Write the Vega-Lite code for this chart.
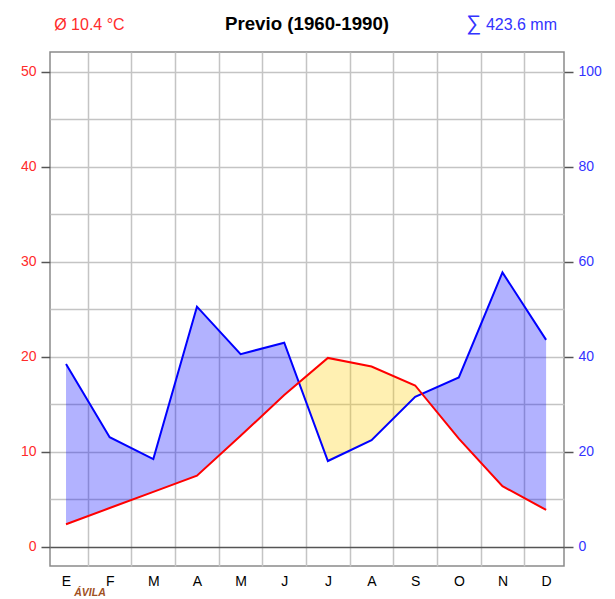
{
  "$schema": "https://vega.github.io/schema/vega-lite/v6.json",
  "width": 514,
  "height": 514,
  "autosize": {"type": "none"},
  "padding": {"left": 50, "top": 52, "right": 51, "bottom": 33},
  "config": {"view": {"stroke": "#8a8a8a", "strokeWidth": 1.5}, "font": "Liberation Sans"},
  "datasets": {
    "months": [
      {"m": 1, "t": 2.4, "p": 38.5},
      {"m": 2, "t": 4.1, "p": 23.1},
      {"m": 3, "t": 5.8, "p": 18.5},
      {"m": 4, "t": 7.5, "p": 50.6},
      {"m": 5, "t": 11.7, "p": 40.6},
      {"m": 6, "t": 16.0, "p": 43.0},
      {"m": 7, "t": 19.9, "p": 18.1},
      {"m": 8, "t": 19.0, "p": 22.5},
      {"m": 9, "t": 17.0, "p": 31.6},
      {"m": 10, "t": 11.4, "p": 35.7},
      {"m": 11, "t": 6.4, "p": 57.8},
      {"m": 12, "t": 3.9, "p": 43.6}
    ],
    "fill": [
      {"m": 1, "hi": 38.5, "lo": 4.8, "zone": "humid", "part": 1},
      {"m": 2, "hi": 23.1, "lo": 8.2, "zone": "humid", "part": 1},
      {"m": 3, "hi": 18.5, "lo": 11.6, "zone": "humid", "part": 1},
      {"m": 4, "hi": 50.6, "lo": 15.0, "zone": "humid", "part": 1},
      {"m": 5, "hi": 40.6, "lo": 23.4, "zone": "humid", "part": 1},
      {"m": 6, "hi": 43.0, "lo": 32.0, "zone": "humid", "part": 1},
      {"m": 6.336, "hi": 34.62, "lo": 34.62, "zone": "humid", "part": 1},
      {"m": 6.336, "hi": 34.62, "lo": 34.62, "zone": "arid", "part": 2},
      {"m": 7, "hi": 39.8, "lo": 18.1, "zone": "arid", "part": 2},
      {"m": 8, "hi": 38.0, "lo": 22.5, "zone": "arid", "part": 2},
      {"m": 9, "hi": 34.0, "lo": 31.6, "zone": "arid", "part": 2},
      {"m": 9.157, "hi": 32.24, "lo": 32.24, "zone": "arid", "part": 2},
      {"m": 9.157, "hi": 32.24, "lo": 32.24, "zone": "humid", "part": 3},
      {"m": 10, "hi": 35.7, "lo": 22.8, "zone": "humid", "part": 3},
      {"m": 11, "hi": 57.8, "lo": 12.8, "zone": "humid", "part": 3},
      {"m": 12, "hi": 43.6, "lo": 7.8, "zone": "humid", "part": 3}
    ]
  },
  "layer": [
    {
      "layer": [
        {
          "data": {"name": "fill"},
          "mark": {"type": "area", "opacity": 0.3},
          "encoding": {
            "x": {
              "field": "m", "type": "quantitative",
              "scale": {"domain": [0.633, 12.41], "nice": false, "zero": false},
              "axis": {"orient": "bottom", "values": [1, 1.5, 2, 2.5, 3, 3.5, 4, 4.5, 5, 5.5, 6, 6.5, 7, 7.5, 8, 8.5, 9, 9.5, 10, 10.5, 11, 11.5, 12], "title": null, "domain": false, "ticks": false, "grid": true, "gridColor": "#c4c4c4", "gridWidth": 1.5, "gridOpacity": {"condition": {"test": "datum.value % 1 !== 0", "value": 1}, "value": 0}, "labelExpr": "datum.value % 1 === 0 ? ['E','F','M','A','M','J','J','A','S','O','N','D'][datum.value - 1] : ''", "labelFont": "Liberation Sans", "labelFontSize": 14, "labelColor": "#000000", "labelPadding": 8, "labelOverlap": false, "labelFlush": false}
            },
            "y": {
              "field": "hi", "type": "quantitative",
              "scale": {"domain": [-4, 104.2], "nice": false, "zero": false},
              "axis": {"orient": "right", "values": [0, 20, 40, 60, 80, 100], "title": null, "domain": false, "grid": false, "tickColor": "#555555", "tickWidth": 1.5, "tickSize": 9, "labelColor": "#3333ff", "labelFont": "Liberation Sans", "labelFontSize": 14, "labelPadding": 5, "labelOverlap": false, "labelFlush": false}
            },
            "y2": {"field": "lo"},
            "color": {"field": "zone", "type": "nominal", "scale": {"domain": ["humid", "arid"], "range": ["#0000ff", "#ffcc00"]}, "legend": null},
            "detail": {"field": "part", "type": "nominal"}
          }
        },
        {
          "data": {"name": "months"},
          "mark": {"type": "line", "color": "#0000ff", "strokeWidth": 2},
          "encoding": {
            "x": {
              "field": "m", "type": "quantitative",
              "scale": {"domain": [0.633, 12.41], "nice": false, "zero": false},
              "axis": {"orient": "bottom", "values": [1, 1.5, 2, 2.5, 3, 3.5, 4, 4.5, 5, 5.5, 6, 6.5, 7, 7.5, 8, 8.5, 9, 9.5, 10, 10.5, 11, 11.5, 12], "title": null, "domain": false, "ticks": false, "grid": true, "gridColor": "#c4c4c4", "gridWidth": 1.5, "gridOpacity": {"condition": {"test": "datum.value % 1 !== 0", "value": 1}, "value": 0}, "labelExpr": "datum.value % 1 === 0 ? ['E','F','M','A','M','J','J','A','S','O','N','D'][datum.value - 1] : ''", "labelFont": "Liberation Sans", "labelFontSize": 14, "labelColor": "#000000", "labelPadding": 8, "labelOverlap": false, "labelFlush": false}
            },
            "y": {"field": "p", "type": "quantitative", "axis": {"orient": "right", "values": [0, 20, 40, 60, 80, 100], "title": null, "domain": false, "grid": false, "tickColor": "#555555", "tickWidth": 1.5, "tickSize": 9, "labelColor": "#3333ff", "labelFont": "Liberation Sans", "labelFontSize": 14, "labelPadding": 5, "labelOverlap": false, "labelFlush": false}}
          }
        }
      ]
    },
    {
      "layer": [
        {
          "data": {"name": "months"},
          "mark": {"type": "line", "color": "#ff0000", "strokeWidth": 2},
          "encoding": {
            "x": {
              "field": "m", "type": "quantitative",
              "scale": {"domain": [0.633, 12.41], "nice": false, "zero": false},
              "axis": {"orient": "bottom", "values": [1, 1.5, 2, 2.5, 3, 3.5, 4, 4.5, 5, 5.5, 6, 6.5, 7, 7.5, 8, 8.5, 9, 9.5, 10, 10.5, 11, 11.5, 12], "title": null, "domain": false, "ticks": false, "grid": true, "gridColor": "#c4c4c4", "gridWidth": 1.5, "gridOpacity": {"condition": {"test": "datum.value % 1 !== 0", "value": 1}, "value": 0}, "labelExpr": "datum.value % 1 === 0 ? ['E','F','M','A','M','J','J','A','S','O','N','D'][datum.value - 1] : ''", "labelFont": "Liberation Sans", "labelFontSize": 14, "labelColor": "#000000", "labelPadding": 8, "labelOverlap": false, "labelFlush": false}
            },
            "y": {
              "field": "t", "type": "quantitative",
              "scale": {"domain": [-2, 52.1], "nice": false, "zero": false},
              "axis": {"orient": "left", "values": [0, 5, 10, 15, 20, 25, 30, 35, 40, 45, 50], "title": null, "domain": false, "grid": true, "gridColor": {"condition": {"test": "datum.value === 0", "value": "#555555"}, "value": "#c4c4c4"}, "gridWidth": 1.5, "tickColor": "#555555", "tickWidth": 1.5, "tickSize": 9, "tickOpacity": {"condition": {"test": "datum.value % 10 === 0", "value": 1}, "value": 0}, "labelExpr": "datum.value % 10 === 0 ? datum.label : ''", "labelColor": "#ff2b2b", "labelFont": "Liberation Sans", "labelFontSize": 14, "labelPadding": 5, "labelOverlap": false, "labelFlush": false}
            }
          }
        },
        {
          "data": {"values": [{}]},
          "mark": {"type": "text", "text": "Previo (1960-1990)", "align": "center", "baseline": "alphabetic", "color": "#000000", "fontSize": 18.7, "fontWeight": "bold", "font": "Liberation Sans"},
          "encoding": {
            "x": {
              "datum": 6.522, "type": "quantitative",
              "scale": {"domain": [0.633, 12.41], "nice": false, "zero": false},
              "axis": {"orient": "bottom", "values": [1, 1.5, 2, 2.5, 3, 3.5, 4, 4.5, 5, 5.5, 6, 6.5, 7, 7.5, 8, 8.5, 9, 9.5, 10, 10.5, 11, 11.5, 12], "title": null, "domain": false, "ticks": false, "grid": true, "gridColor": "#c4c4c4", "gridWidth": 1.5, "gridOpacity": {"condition": {"test": "datum.value % 1 !== 0", "value": 1}, "value": 0}, "labelExpr": "datum.value % 1 === 0 ? ['E','F','M','A','M','J','J','A','S','O','N','D'][datum.value - 1] : ''", "labelFont": "Liberation Sans", "labelFontSize": 14, "labelColor": "#000000", "labelPadding": 8, "labelOverlap": false, "labelFlush": false}
            },
            "y": {"datum": 54.42, "type": "quantitative"}
          }
        },
        {
          "data": {"values": [{}]},
          "mark": {"type": "text", "text": "Ø 10.4 °C", "align": "left", "baseline": "alphabetic", "color": "#ff2b2b", "fontSize": 16, "font": "Liberation Sans"},
          "encoding": {
            "x": {
              "datum": 0.73, "type": "quantitative",
              "scale": {"domain": [0.633, 12.41], "nice": false, "zero": false},
              "axis": {"orient": "bottom", "values": [1, 1.5, 2, 2.5, 3, 3.5, 4, 4.5, 5, 5.5, 6, 6.5, 7, 7.5, 8, 8.5, 9, 9.5, 10, 10.5, 11, 11.5, 12], "title": null, "domain": false, "ticks": false, "grid": true, "gridColor": "#c4c4c4", "gridWidth": 1.5, "gridOpacity": {"condition": {"test": "datum.value % 1 !== 0", "value": 1}, "value": 0}, "labelExpr": "datum.value % 1 === 0 ? ['E','F','M','A','M','J','J','A','S','O','N','D'][datum.value - 1] : ''", "labelFont": "Liberation Sans", "labelFontSize": 14, "labelColor": "#000000", "labelPadding": 8, "labelOverlap": false, "labelFlush": false}
            },
            "y": {"datum": 54.42, "type": "quantitative"}
          }
        },
        {
          "data": {"values": [{}]},
          "mark": {"type": "text", "text": "423.6 mm", "align": "right", "baseline": "alphabetic", "color": "#3333ff", "fontSize": 16, "font": "Liberation Sans"},
          "encoding": {
            "x": {
              "datum": 12.25, "type": "quantitative",
              "scale": {"domain": [0.633, 12.41], "nice": false, "zero": false},
              "axis": {"orient": "bottom", "values": [1, 1.5, 2, 2.5, 3, 3.5, 4, 4.5, 5, 5.5, 6, 6.5, 7, 7.5, 8, 8.5, 9, 9.5, 10, 10.5, 11, 11.5, 12], "title": null, "domain": false, "ticks": false, "grid": true, "gridColor": "#c4c4c4", "gridWidth": 1.5, "gridOpacity": {"condition": {"test": "datum.value % 1 !== 0", "value": 1}, "value": 0}, "labelExpr": "datum.value % 1 === 0 ? ['E','F','M','A','M','J','J','A','S','O','N','D'][datum.value - 1] : ''", "labelFont": "Liberation Sans", "labelFontSize": 14, "labelColor": "#000000", "labelPadding": 8, "labelOverlap": false, "labelFlush": false}
            },
            "y": {"datum": 54.42, "type": "quantitative"}
          }
        },
        {
          "data": {"values": [{}]},
          "mark": {"type": "text", "text": "∑", "align": "right", "baseline": "alphabetic", "color": "#3333ff", "fontSize": 21, "font": "Liberation Sans"},
          "encoding": {
            "x": {
              "datum": 10.51, "type": "quantitative",
              "scale": {"domain": [0.633, 12.41], "nice": false, "zero": false},
              "axis": {"orient": "bottom", "values": [1, 1.5, 2, 2.5, 3, 3.5, 4, 4.5, 5, 5.5, 6, 6.5, 7, 7.5, 8, 8.5, 9, 9.5, 10, 10.5, 11, 11.5, 12], "title": null, "domain": false, "ticks": false, "grid": true, "gridColor": "#c4c4c4", "gridWidth": 1.5, "gridOpacity": {"condition": {"test": "datum.value % 1 !== 0", "value": 1}, "value": 0}, "labelExpr": "datum.value % 1 === 0 ? ['E','F','M','A','M','J','J','A','S','O','N','D'][datum.value - 1] : ''", "labelFont": "Liberation Sans", "labelFontSize": 14, "labelColor": "#000000", "labelPadding": 8, "labelOverlap": false, "labelFlush": false}
            },
            "y": {"datum": 54.42, "type": "quantitative"}
          }
        },
        {
          "data": {"values": [{}]},
          "mark": {"type": "text", "text": "ÁVILA", "align": "center", "baseline": "alphabetic", "color": "#a0501e", "fontSize": 10.5, "fontWeight": "bold", "fontStyle": "italic", "font": "Liberation Sans"},
          "encoding": {
            "x": {
              "datum": 1.55, "type": "quantitative",
              "scale": {"domain": [0.633, 12.41], "nice": false, "zero": false},
              "axis": {"orient": "bottom", "values": [1, 1.5, 2, 2.5, 3, 3.5, 4, 4.5, 5, 5.5, 6, 6.5, 7, 7.5, 8, 8.5, 9, 9.5, 10, 10.5, 11, 11.5, 12], "title": null, "domain": false, "ticks": false, "grid": true, "gridColor": "#c4c4c4", "gridWidth": 1.5, "gridOpacity": {"condition": {"test": "datum.value % 1 !== 0", "value": 1}, "value": 0}, "labelExpr": "datum.value % 1 === 0 ? ['E','F','M','A','M','J','J','A','S','O','N','D'][datum.value - 1] : ''", "labelFont": "Liberation Sans", "labelFontSize": 14, "labelColor": "#000000", "labelPadding": 8, "labelOverlap": false, "labelFlush": false}
            },
            "y": {"datum": -5.2, "type": "quantitative"}
          }
        }
      ]
    }
  ],
  "resolve": {"scale": {"y": "independent"}}
}
